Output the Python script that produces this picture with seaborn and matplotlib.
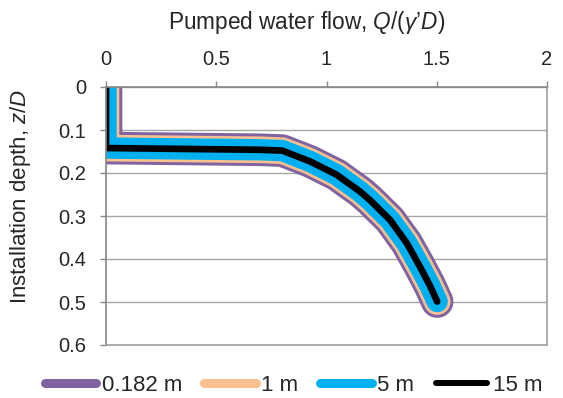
import matplotlib
matplotlib.use("Agg")
import matplotlib.pyplot as plt
import seaborn as sns
import pandas as pd
from matplotlib.lines import Line2D

# Data
flow = [0.0, 0.0, 0.35, 0.70, 0.80, 0.925, 1.046, 1.10, 1.152, 1.197, 1.288, 1.364, 1.424, 1.469, 1.502]
depth = [0.0, 0.142, 0.144, 0.146, 0.148, 0.173, 0.204, 0.224, 0.243, 0.263, 0.309, 0.363, 0.418, 0.462, 0.499]
series = ["0.182 m", "1 m", "5 m", "15 m"]
colors = ["#8064A2", "#FAC090", "#00B0F0", "#000000"]
widths = [23.5, 19.2, 15.4, 4.8]
legend_widths = [6.5, 6.5, 6.5, 4.3]
xticks = [0, 0.5, 1, 1.5, 2]
yticks = [0, 0.1, 0.2, 0.3, 0.4, 0.5, 0.6]

sns.set_style("white")
plt.rcParams["font.family"] = ["Liberation Sans", "DejaVu Sans"]
plt.rcParams["mathtext.fontset"] = "custom"
plt.rcParams["mathtext.rm"] = "Liberation Sans"
plt.rcParams["mathtext.it"] = "Liberation Sans:italic"

fig = plt.figure(figsize=(5.63, 3.98), dpi=100)
ax = fig.add_axes([106 / 563, 1 - 345 / 398, 441 / 563, 258 / 398])

df = pd.DataFrame({"flow": flow, "depth": depth})
for name, c, w in zip(series, colors, widths):
    sns.lineplot(data=df, x="flow", y="depth", sort=False, estimator=None,
                 color=c, lw=w, ax=ax, solid_capstyle="round",
                 solid_joinstyle="round", legend=False)

ax.set_xlim(0, 2)
ax.set_ylim(0.6, 0)
ax.set_xticks(xticks)
ax.set_xticklabels([f"{v:g}" for v in xticks])
ax.set_yticks(yticks)
ax.set_yticklabels([f"{v:g}" for v in yticks])
ax.xaxis.tick_top()
ax.xaxis.set_label_position("top")
ax.tick_params(axis="both", which="major", labelsize=14.5, length=4, width=1,
               color="#868686", direction="out")
ax.tick_params(axis="x", top=True, bottom=False, pad=9)
ax.tick_params(axis="y", left=True, pad=10)
ax.yaxis.grid(True, color="#A6A6A6", lw=1.0)
ax.xaxis.grid(False)
ax.set_axisbelow(True)
for s in ax.spines.values():
    s.set_color("#A0A0A0")
    s.set_linewidth(1.2)
ax.spines["left"].set_color("#868686")
ax.spines["top"].set_color("#868686")

ax.set_xlabel("Pumped water flow, $\\mathit{Q/(γ’D)}$", fontsize=16.3)
ax.xaxis.set_label_coords(0.4546, 1.198)
ax.xaxis.label.set_va("bottom")
ax.set_ylabel("Installation depth, $\\mathit{z/D}$", fontsize=16)
ax.yaxis.set_label_coords(-0.1655, 0.578)

handles = [Line2D([0], [0], color=c, lw=w, solid_capstyle="round")
           for c, w in zip(colors, legend_widths)]
fig.legend(handles, series, loc="center", bbox_to_anchor=(0.522, 0.032), ncol=4,
           frameon=False, fontsize=16, handlelength=2.3, handletextpad=0.25,
           columnspacing=1.0, borderpad=0, borderaxespad=0)

fig.savefig("out.png", dpi=100)
